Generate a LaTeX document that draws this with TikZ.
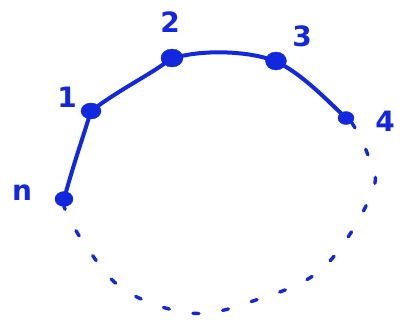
\documentclass[tikz,border=0pt]{standalone}
\usepackage{fontspec}
\setmainfont{DejaVu Sans}
\usetikzlibrary{shapes.geometric}
\definecolor{ink}{RGB}{18,40,222}
\tikzset{
  vert/.style 2 args={ellipse, fill=ink, draw=ink, inner sep=0pt, minimum width=#1, minimum height=#2},
  lbl/.style={text=ink, font=\fontsize{28}{28}\bfseries\selectfont},
  edge/.style={draw=ink, line width=4pt, line cap=round},
  dots/.style={draw=ink, line width=3.4pt, line cap=round, dash pattern=on 6pt off 24pt}
}
\begin{document}
\begin{tikzpicture}[x=1pt,y=-1pt]
\useasboundingbox (0,0) rectangle (406,327);
% vertices
\node[vert={18pt}{15pt}] (vn) at (64,199) {};
\node[vert={20pt}{16pt}] (v1) at (91,111) {};
\node[vert={22pt}{18pt}] (v2) at (172,58) {};
\node[vert={21pt}{18pt}] (v3) at (276,61) {};
\node[vert={16pt}{13pt}] (v4) at (346,118) {};
% labels
\node[lbl] (ln) at (22,193) {n};
\node[lbl] (l1) at (67,97) {1};
\node[lbl] (l2) at (170,22) {2};
\node[lbl] (l3) at (302,36) {3};
\node[lbl] (l4) at (385,121) {4};
% solid edges
\draw[edge] (vn) .. controls (75,160) and (82,140) .. (v1);
\draw[edge] (v1) .. controls (120,90) and (150,74) .. (v2);
\draw[edge] (v2) .. controls (210,50) and (245,52) .. (v3);
\draw[edge] (v3) .. controls (305,78) and (325,98) .. (v4);
% dashed return arc
\coordinate (a1) at (373,190);
\coordinate (a2) at (323,268);
\coordinate (a3) at (250,302);
\coordinate (a4) at (190,313);
\coordinate (a5) at (123,289);
\coordinate (a6) at (82,240);
\draw[dots] plot[smooth, tension=0.6] coordinates {(v4.south east) (366,150) (a1) (a2) (a3) (a4) (a5) (a6) (vn.south)};
\end{tikzpicture}
\end{document}
